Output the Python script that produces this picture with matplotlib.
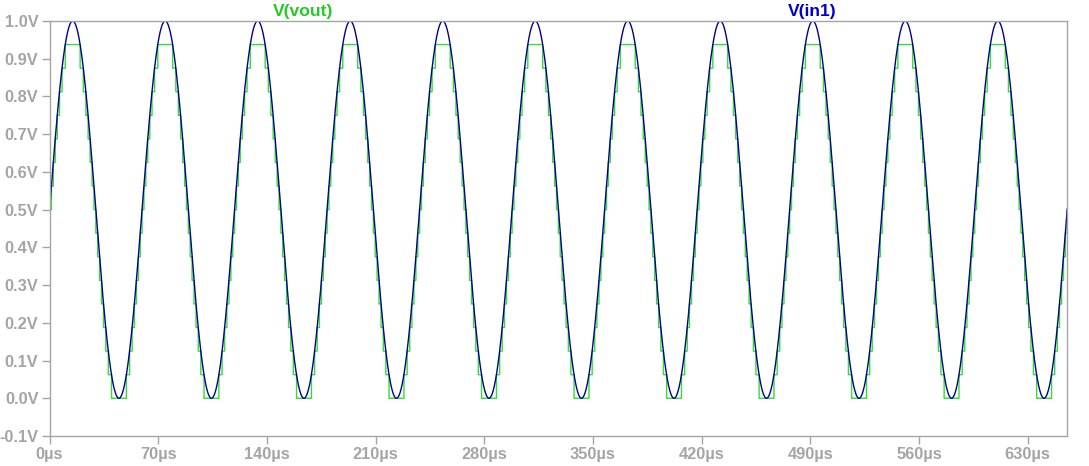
import numpy as np
import matplotlib.pyplot as plt

# Values (LTspice-style transient plot)
t_end_us = 655.4          # right edge of the time axis
period_us = 59.58         # period of V(in1)
offset_v = 0.5            # V(in1) offset
amplitude_v = 0.5         # V(in1) amplitude
levels_v = [i / 16 for i in range(16)]   # output steps of V(vout), 0.0V .. 0.9375V
vout_start_v = 0.4375                    # V(vout) at t = 0

x_ticks = [0, 70, 140, 210, 280, 350, 420, 490, 560, 630]
y_ticks = [-0.1, 0.0, 0.1, 0.2, 0.3, 0.4, 0.5, 0.6, 0.7, 0.8, 0.9, 1.0]

# Traces
t = np.linspace(0, t_end_us, 20001)
v_in = offset_v + amplitude_v * np.sin(2 * np.pi * t / period_us)
idx = np.searchsorted(levels_v, v_in, side='right') - 1
v_out = np.array(levels_v)[np.clip(idx, 0, len(levels_v) - 1)]
v_out[0] = vout_start_v

grey = '#a5a5a5'

fig = plt.figure(figsize=(10.89, 4.66), dpi=100)
ax = fig.add_axes([0.0455, 0.0644, 0.9345, 0.8906])

ax.plot(t, v_out, color='#33dd33', linewidth=1.0, drawstyle='steps-post')
ax.plot(t, v_in, color='#000090', linewidth=1.0)

ax.set_xlim(0, t_end_us)
ax.set_ylim(-0.1, 1.0)

ax.set_xticks(x_ticks)
ax.set_xticklabels([f'{x}µs' for x in x_ticks])
ax.set_yticks(y_ticks)
ax.set_yticklabels([f'{y:.1f}V' for y in y_ticks])

for s in ax.spines.values():
    s.set_color(grey)
    s.set_linewidth(1.0)
ax.tick_params(colors=grey, length=6, width=1.0, direction='out', pad=2)
for lbl in ax.get_xticklabels() + ax.get_yticklabels():
    lbl.set_fontfamily('Liberation Sans')
    lbl.set_fontweight('bold')
    lbl.set_fontsize(11.8)
    lbl.set_color(grey)

# Trace names
ax.text(0.249, 1.004, 'V(vout)', transform=ax.transAxes, ha='center', va='bottom',
        color='#22cc22', fontsize=12.6, fontweight='bold', fontfamily='Liberation Sans')
ax.text(0.749, 1.004, 'V(in1)', transform=ax.transAxes, ha='center', va='bottom',
        color='#0000cc', fontsize=12.6, fontweight='bold', fontfamily='Liberation Sans')

plt.savefig('out.png', dpi=100)
